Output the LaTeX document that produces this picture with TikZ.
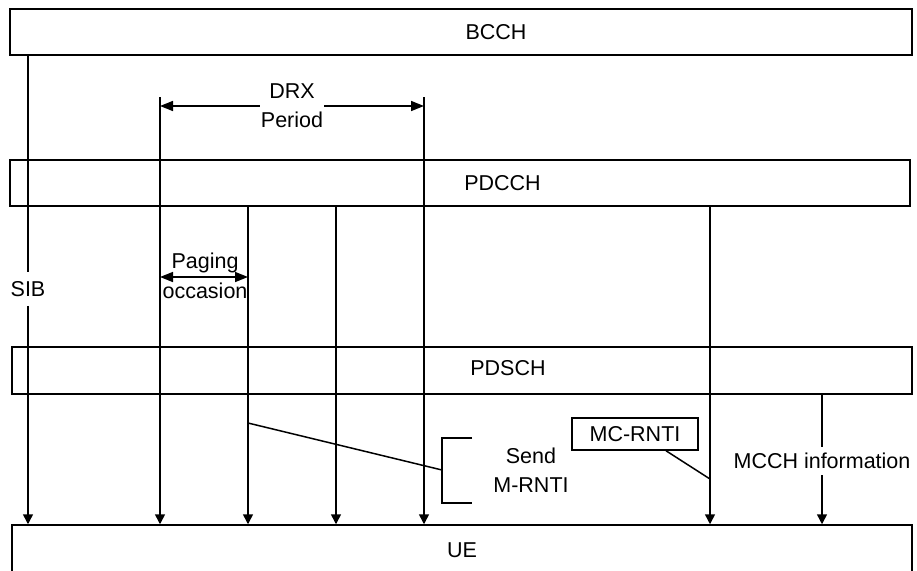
\documentclass[tikz,border=0pt]{standalone}
\usepackage{fontspec}
\setmainfont{Liberation Sans}
\usetikzlibrary{arrows.meta,positioning}

\begin{document}
\begin{tikzpicture}[x=1pt,y=-1pt,line width=1.5pt,
  font=\fontsize{21.5}{29}\selectfont,
  chan/.style={draw,inner sep=0pt,minimum height=46pt},
  sig/.style={-{Triangle[length=10pt,width=10pt]}},
  dimtip/.style={-{Triangle[length=13pt,width=10pt]}},
  dim/.style={{Triangle[length=13pt,width=10pt]}-{Triangle[length=13pt,width=10pt]}}]

  \useasboundingbox (0,0) rectangle (917,570);

  % channels
  \node[chan,minimum width=902pt,label={[xshift=35pt]center:BCCH}] (bcch) at (461,32) {};
  \node[chan,minimum width=900pt,label={[xshift=42.5pt]center:PDCCH}] (pdcch) at (460,183) {};
  \node[chan,minimum width=900pt,minimum height=47pt,label={[xshift=46pt,yshift=2pt]center:PDSCH}] (pdsch) at (462,370.5) {};
  \node[chan,minimum width=900pt,minimum height=50pt] (ue) at (462,550) {UE};

  % SIB on BCCH
  \node[inner sep=0pt,minimum height=32pt] (sib) at (28,289) {SIB};
  \draw (bcch.south -| sib) -- (sib.north);
  \draw[sig] (sib.south) -- (sib.south |- ue.north);

  % DRX period
  \coordinate (drxa) at (160,97);
  \coordinate (drxb) at (424,97);
  \draw[sig] (drxa) -- (drxa |- ue.north);
  \draw[sig] (drxb) -- (drxb |- ue.north);
  \node[align=center,inner xsep=0.5pt] (drx) at (292,106) {DRX\\Period};
  \draw[dimtip] (drx.west) -- (drx.west -| drxa);
  \draw[dimtip] (drx.east) -- (drx.east -| drxb);

  % paging occasions on PDCCH
  \coordinate (po) at (248,0);
  \coordinate (pm) at (336,0);
  \draw[sig] (pdcch.south -| po) -- (ue.north -| po);
  \draw[sig] (pdcch.south -| pm) -- (ue.north -| pm);
  \coordinate (pga) at (160,277);
  \draw[dim] (pga) -- (pga -| po);
  \node[anchor=base] (pag) at (205,268) {Paging};
  \node[anchor=base] (occ) at (205,298) {occasion};

  % Send M-RNTI
  \coordinate (pgo) at (248,423);
  \coordinate (brt) at (472,438);
  \coordinate (brb) at (472,503);
  \coordinate (brm) at (442,470);
  \draw (brt) -| (brb -| brm) -- (brb);
  \draw (pgo) -- (brm);
  \node[align=center] (send) at (531,470) {Send\\M-RNTI};

  % MC-RNTI
  \coordinate (mcx) at (710,0);
  \coordinate (mctip) at (710,479);
  \draw[sig] (pdcch.south -| mcx) -- (ue.north -| mcx);
  \node[draw,inner sep=0pt,minimum width=126pt,minimum height=32pt] (mcrnti) at (635,434) {MC-RNTI};
  \draw ([xshift=31pt]mcrnti.south) -- (mctip);

  % MCCH information on PDSCH
  \node[inner sep=0pt,minimum height=27pt] (mcch) at (822,461) {MCCH information};
  \draw (pdsch.south -| mcch) -- (mcch.north);
  \draw[sig] (mcch.south) -- (mcch.south |- ue.north);

\end{tikzpicture}
\end{document}
